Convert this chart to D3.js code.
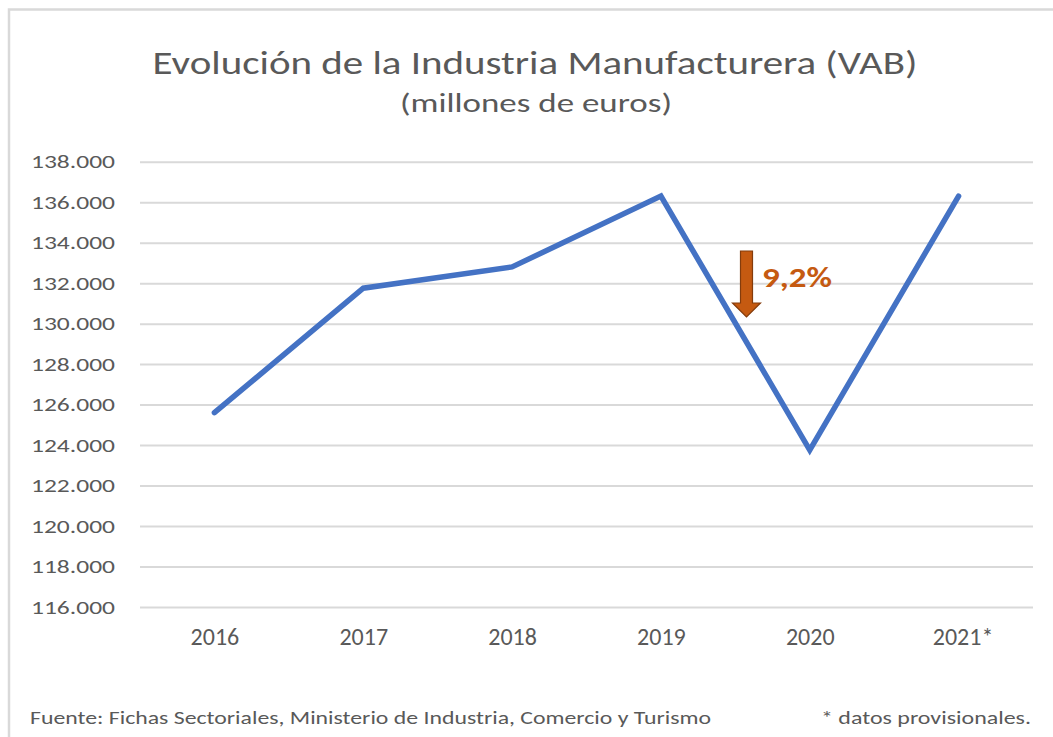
<!DOCTYPE html>
<html>
<head>
<meta charset="utf-8">
<script src="https://cdn.jsdelivr.net/npm/d3@7"></script>
<style>
  body { margin: 0; background: #fff; }
  text { font-family: Carlito, Calibri, "Liberation Sans Narrow", "Noto Sans", sans-serif; }
</style>
</head>
<body>
<div id="container"></div>
<script>
/* 1. DATA */
const years = ["2016", "2017", "2018", "2019", "2020", "2021*"];
const vab = [125600, 131750, 132800, 136300, 123750, 136300];
const yTicks = [116000, 118000, 120000, 122000, 124000, 126000, 128000, 130000, 132000, 134000, 136000, 138000];

/* 2. CONSTANTS */
const width = 1053, height = 737;
const grey = "#595959";
const lineColor = "#4472C4";
const arrowColor = "#C55A11";

const svg = d3.select("#container")
  .append("svg")
  .attr("width", width)
  .attr("height", height);

// chart frame (only top and left edges are visible)
svg.append("path")
  .attr("d", `M9,${height} V9.5 H${width}`)
  .attr("fill", "none")
  .attr("stroke", "#d9d9d9")
  .attr("stroke-width", 2.5);

/* 3. SCALES */
const xScale = d3.scalePoint()
  .domain(years)
  .range([140, 1033])
  .padding(0.5);

const yScale = d3.scaleLinear()
  .domain([116000, 138000])
  .range([607, 161.7]);

const fmt = d => d3.format(",")(d).replace(/,/g, ".");

/* 4. TITLES */
svg.append("text")
  .attr("x", 535).attr("y", 74)
  .attr("text-anchor", "middle")
  .attr("fill", grey)
  .attr("font-size", 33)
  .attr("textLength", 765).attr("lengthAdjust", "spacingAndGlyphs")
  .text("Evolución de la Industria Manufacturera (VAB)");

svg.append("text")
  .attr("x", 536).attr("y", 112)
  .attr("text-anchor", "middle")
  .attr("fill", grey)
  .attr("font-size", 27)
  .attr("textLength", 272).attr("lengthAdjust", "spacingAndGlyphs")
  .text("(millones de euros)");

/* 5. AXES */
const yAxis = d3.axisLeft(yScale)
  .tickValues(yTicks)
  .tickFormat(fmt)
  .tickSize(-(1033 - 140))
  .tickPadding(25);

const gy = svg.append("g")
  .attr("transform", "translate(140,0)")
  .call(yAxis);
gy.select(".domain").remove();
gy.selectAll(".tick line").attr("stroke", "#d9d9d9").attr("stroke-width", 2);
gy.selectAll(".tick text")
  .attr("fill", grey)
  .attr("font-size", 19)
  .attr("textLength", 84).attr("lengthAdjust", "spacingAndGlyphs");

const xAxis = d3.axisBottom(xScale).tickSize(0).tickPadding(21);
const gx = svg.append("g")
  .attr("transform", "translate(0,607)")
  .call(xAxis);
gx.select(".domain").remove();
gx.selectAll(".tick text")
  .attr("fill", grey)
  .attr("font-size", 24)
  .attr("dx", d => d.endsWith("*") ? 4 : 0);

/* 6. LINE */
const line = d3.line()
  .x((d, i) => xScale(years[i]))
  .y(d => yScale(d));

svg.append("path")
  .datum(vab)
  .attr("d", line)
  .attr("fill", "none")
  .attr("stroke", lineColor)
  .attr("stroke-width", 5.5)
  .attr("stroke-linejoin", "miter")
  .attr("stroke-linecap", "round");

/* 7. ANNOTATION: drop 2019 -> 2020 */
const ax = 746.5, aTop = 251, aHead = 303, aTip = 317;
svg.append("path")
  .attr("d", `M${ax-6},${aTop} H${ax+6} V${aHead} H${ax+14} L${ax},${aTip} L${ax-14},${aHead} H${ax-6} Z`)
  .attr("fill", arrowColor)
  .attr("stroke", "#843C0C")
  .attr("stroke-width", 1.2);

const drop = (vab[3] - vab[4]) / vab[3] * 100;
svg.append("text")
  .attr("x", 762).attr("y", 287)
  .attr("fill", arrowColor)
  .attr("font-size", 28)
  .attr("font-weight", "bold")
  .attr("textLength", 70).attr("lengthAdjust", "spacingAndGlyphs")
  .text(drop.toFixed(1).replace(".", ",") + "%");

/* 8. FOOTER */
svg.append("text")
  .attr("x", 30).attr("y", 724)
  .attr("fill", grey)
  .attr("font-size", 18)
  .attr("textLength", 681).attr("lengthAdjust", "spacingAndGlyphs")
  .text("Fuente: Fichas Sectoriales, Ministerio de Industria, Comercio y Turismo");

svg.append("text")
  .attr("x", 1031).attr("y", 724)
  .attr("text-anchor", "end")
  .attr("fill", grey)
  .attr("font-size", 18)
  .attr("textLength", 210).attr("lengthAdjust", "spacingAndGlyphs")
  .text("* datos provisionales.");
</script>
</body>
</html>
